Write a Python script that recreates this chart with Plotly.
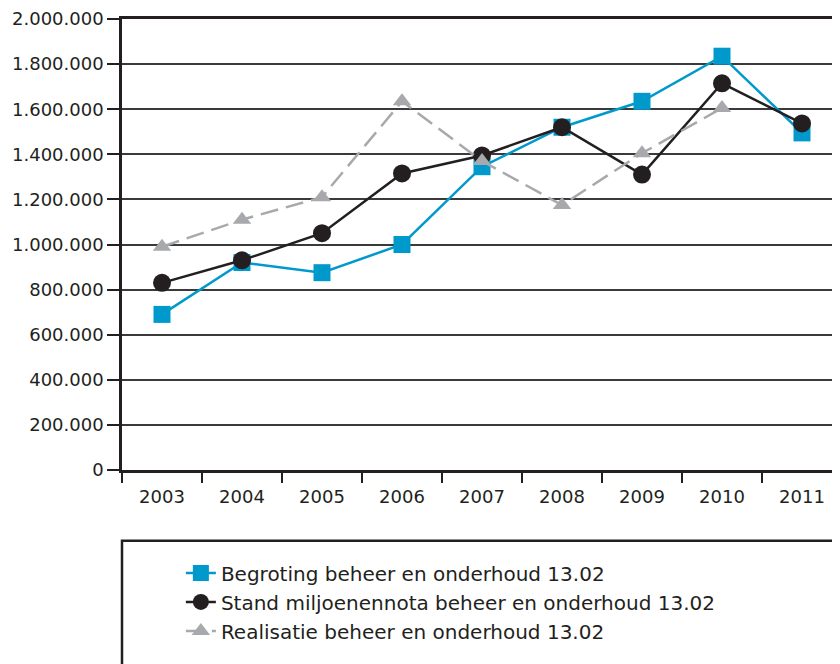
import plotly.graph_objects as go

jaren = ["2003", "2004", "2005", "2006", "2007", "2008", "2009", "2010", "2011"]

# Bedragen (x 1.000 euro)
begroting = [690000, 920000, 875000, 1000000, 1345000, 1520000, 1635000, 1835000, 1495000]
stand_mn = [830000, 930000, 1050000, 1315000, 1395000, 1520000, 1310000, 1715000, 1537000]
realisatie = [990000, 1110000, 1210000, 1635000, 1370000, 1175000, 1405000, 1605000, None]

namen = [
    "Begroting beheer en onderhoud 13.02",
    "Stand miljoenennota beheer en onderhoud 13.02",
    "Realisatie beheer en onderhoud 13.02",
]

blauw = "#0099cc"
zwart = "#231f20"
grijs = "#a7a9ac"
font = "DejaVu Sans"

fig = go.Figure()

fig.add_trace(go.Scatter(
    x=jaren, y=begroting, name=namen[0], legendgroup="a",
    mode="lines+markers",
    line=dict(color=blauw, width=2.5),
    marker=dict(symbol="square", size=17, color=blauw),
))
fig.add_trace(go.Scatter(
    x=jaren, y=stand_mn, name=namen[1], legendgroup="b",
    mode="lines+markers",
    line=dict(color=zwart, width=2.5),
    marker=dict(symbol="circle", size=18, color=zwart),
))
fig.add_trace(go.Scatter(
    x=jaren, y=realisatie, name=namen[2], legendgroup="c",
    mode="lines+markers",
    line=dict(color=grijs, width=2.5, dash="18px,8px"),
    marker=dict(symbol="triangle-up", size=16, color=grijs),
))

# kader rond de legenda
fig.add_shape(type="rect", xref="paper", yref="paper",
              x0=0, x1=1.05, y0=-0.157, y1=-0.6,
              line=dict(color=zwart, width=2.5), fillcolor="rgba(0,0,0,0)")

# de pagina heeft 8px marge, dus de figuur is iets kleiner dan het venster
fig.update_layout(
    width=832, height=656,
    margin=dict(l=114, r=0, t=9, b=194),
    paper_bgcolor="white", plot_bgcolor="white",
    separators=",.",
    font=dict(family=font, size=18, color=zwart),
    showlegend=True,
    legend=dict(
        x=0.082, xanchor="left", y=-0.185, yanchor="top",
        bgcolor="rgba(0,0,0,0)", borderwidth=0,
        tracegroupgap=11, traceorder="normal",
        font=dict(family=font, size=20, color=zwart),
    ),
    xaxis=dict(
        type="category", range=[-0.5, 8.475],
        tickson="boundaries", ticks="outside", ticklen=10, tickwidth=1.5, tickcolor=zwart,
        ticklabelstandoff=9,
        showline=True, linecolor=zwart, linewidth=2.5, mirror=True,
        showgrid=False, zeroline=False,
    ),
    yaxis=dict(
        range=[0, 2000000], dtick=200000, tickformat=",d",
        ticks="outside", ticklen=12, tickwidth=1.5, tickcolor=zwart,
        ticklabeloverflow="allow",
        showline=True, linecolor=zwart, linewidth=2.5,
        showgrid=True, gridcolor="#3a3a3a", gridwidth=1.5,
        zeroline=False,
    ),
)

fig.write_html("out.html")
